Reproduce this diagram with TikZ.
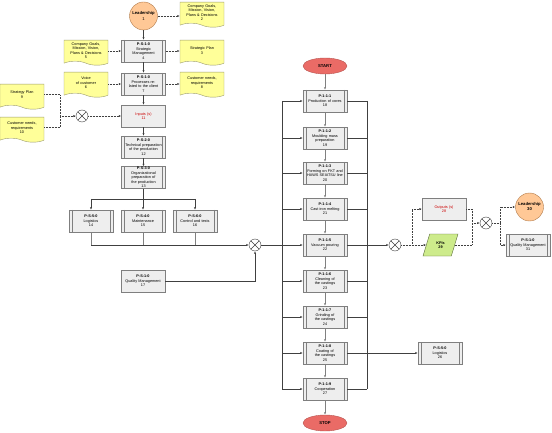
\documentclass[tikz,border=0pt]{standalone}
\usepackage{fontspec}
\setmainfont{Liberation Sans}
\usetikzlibrary{shapes.geometric,shapes.symbols,arrows.meta}
\definecolor{boxfill}{HTML}{EEEEEE}
\definecolor{boxborder}{HTML}{7F7F7F}
\definecolor{docfill}{HTML}{FFFF99}
\definecolor{docborder}{HTML}{9A9A70}
\definecolor{leadfill}{HTML}{FFC896}
\definecolor{leadborder}{HTML}{B07A4A}
\definecolor{termfill}{HTML}{EA6B66}
\definecolor{termborder}{HTML}{B85450}
\definecolor{kpifill}{HTML}{CDEB8B}
\definecolor{kpiborder}{HTML}{5A6A3A}
\definecolor{redtext}{HTML}{CC0000}
\definecolor{linec}{HTML}{404040}
\begin{document}
\begin{tikzpicture}[x=1pt,y=-1pt,
  font=\fontsize{3.8}{4.5}\selectfont,
  >={Latex[length=2.5pt,width=2.2pt]},
  plainbox/.style={rectangle, draw=boxborder, fill=boxfill, minimum width=44pt, minimum height=22pt, inner sep=0pt, align=center, text width=38pt},
  proc/.style={plainbox, path picture={\draw[boxborder] ([xshift=3pt]path picture bounding box.north west) -- ([xshift=3pt]path picture bounding box.south west) ([xshift=-3pt]path picture bounding box.north east) -- ([xshift=-3pt]path picture bounding box.south east);}},
  doc/.style={tape, tape bend top=none, tape bend bottom=out and in, tape bend height=4pt, draw=docborder, fill=docfill, minimum width=44pt, minimum height=25pt, inner sep=1pt, align=center, text width=42pt, anchor=north},
  xor/.style={circle, draw=linec, fill=white, minimum size=12pt, inner sep=0pt, path picture={\draw[linec] (path picture bounding box.north west) -- (path picture bounding box.south east) (path picture bounding box.north east) -- (path picture bounding box.south west);}},
  lead/.style={circle, draw=leadborder, fill=leadfill, minimum size=28pt, inner sep=0pt, align=center, font=\fontsize{4.2}{5}\selectfont\bfseries},
  term/.style={ellipse, draw=termborder, fill=termfill, minimum width=44pt, minimum height=16pt, inner sep=0pt, font=\fontsize{4.2}{5}\selectfont\bfseries},
  kpi/.style={trapezium, trapezium left angle=70, trapezium right angle=110, trapezium stretches=true, draw=kpiborder, fill=kpifill, minimum width=35pt, minimum height=22pt, inner sep=0pt, align=center, font=\fontsize{3.8}{4.5}\selectfont\bfseries},
  conn/.style={draw=linec, line width=0.5pt},
  gconn/.style={draw=gray, line width=0.6pt},
  dotconn/.style={draw=linec, line width=0.5pt, densely dotted}
]
\useasboundingbox (0,0) rectangle (552,433);

% top-left group
\node[lead] (lead1) at (143.5,16) {Leadership\\[0.5pt]\mdseries 1};
\node[doc] (doc2) at (202,2) {Company Goals,\\Mission, Vision,\\Plans \& Decisions\\2};
\node[proc] (sm4) at (143.5,51) {\textbf{P-S-1-0}\\Strategic\\Management\\4};
\node[doc] (doc5) at (86,40) {Company Goals,\\Mission, Vision,\\Plans \& Decisions\\5};
\node[doc] (doc3) at (202,40) {Strategic Plan\\3};
\node[proc] (cl7) at (143.5,84) {\textbf{P-S-1-0}\\Processes related to the client\\7};
\node[doc] (doc6) at (86,72) {Voice\\of customer\\6};
\node[doc] (doc8) at (202,72) {Customer needs,\\requirements\\8};
\node[doc] (doc9) at (22,84) {Strategy Plan\\9};
\node[doc] (doc10) at (22,117) {Customer needs,\\requirements\\10};
\node[xor] (xor1) at (82,116) {};
\node[plainbox, text=redtext] (in11) at (143.5,116) {Inputs (s)\\11};
\node[proc] (tp12) at (143.5,147) {\textbf{P-S-2-0}\\Technical preparation of the production\\12};
\node[proc] (op13) at (143.5,177.5) {\textbf{P-S-3-0}\\Organizational preparation of the production\\13};
\node[proc] (log14) at (91,221) {\textbf{P-S-5-0}\\Logistics\\14};
\node[proc] (mt15) at (143,221) {\textbf{P-S-4-0}\\Maintenance\\15};
\node[proc] (ct16) at (195,221) {\textbf{P-S-6-0}\\Control and tests\\16};
\node[xor] (xor2) at (255,245) {};
\node[plainbox] (qm17) at (143,281) {\textbf{P-S-1-0}\\Quality Management\\17};

% main column
\node[term] (start) at (325,66) {START};
\node[proc] (b18) at (325,101) {\textbf{P-1-1-1}\\Production of cores\\18};
\node[proc] (b19) at (325,138) {\textbf{P-1-1-2}\\Moulding mass preparation\\19};
\node[proc] (b20) at (325,173) {\textbf{P-1-1-3}\\Forming on FKT and HAWS SEIATSU line\\20};
\node[proc] (b21) at (325,209) {\textbf{P-1-1-4}\\Cast iron melting\\21};
\node[proc] (b22) at (325,245) {\textbf{P-1-1-5}\\Vacuum pouring\\22};
\node[proc] (b23) at (325,281) {\textbf{P-1-1-6}\\Cleaning of the castings\\23};
\node[proc] (b24) at (325,317) {\textbf{P-1-1-7}\\Grinding of the castings\\24};
\node[proc] (b25) at (325,353) {\textbf{P-1-1-8}\\Coating of the castings\\25};
\node[proc] (b27) at (325,389) {\textbf{P-1-1-9}\\Cooperation\\27};
\node[term] (stop) at (325,423) {STOP};

% right group
\node[xor] (xor3) at (395,245) {};
\node[plainbox, text=redtext] (out28) at (444,209) {Outputs (s)\\28};
\node[kpi] (kpi29) at (440.5,245) {KPIs\\29};
\node[xor] (xor4) at (486,223) {};
\node[lead] (lead30) at (529.5,207) {Leadership\\30};
\node[proc] (qm31) at (528,245) {\textbf{P-S-1-0}\\Quality Management\\31};
\node[proc] (log26) at (440,353) {\textbf{P-S-5-0}\\Logistics\\26};

% top-left connectors
\draw[->,conn] (lead1) -- (sm4);
\draw[->,dotconn] (lead1.east) -- (lead1.east -| doc2.west);
\draw[->,dotconn] (sm4.west -| doc5.east) -- (sm4.west);
\draw[->,dotconn] (sm4.east) -- (sm4.east -| doc3.west);
\draw[->,conn] (sm4) -- (cl7);
\draw[->,dotconn] (cl7.west -| doc6.east) -- (cl7.west);
\draw[->,dotconn] (cl7.east) -- (cl7.east -| doc8.west);
\draw[->,conn] (cl7) -- (in11);
\coordinate (j1) at (60,116);
\draw[dotconn] (doc9.east) -| (j1);
\draw[dotconn] (doc10.east) -| (j1);
\draw[->,dotconn] (j1) -- (xor1);
\draw[->,dotconn] (xor1) -- (in11);
\draw[->,conn] (in11) -- (tp12);
\draw[->,conn] (tp12) -- (op13);
\coordinate (j2) at (143.5,199);
\draw[conn] (op13) -- (j2);
\draw[conn] (j2 -| log14) -- (j2 -| ct16);
\draw[->,conn] (j2 -| log14) -- (log14);
\draw[->,conn] (j2 -| mt15) -- (mt15);
\draw[->,conn] (j2 -| ct16) -- (ct16);
\draw[gconn] (log14) -- (log14 |- xor2);
\draw[gconn] (mt15) -- (mt15 |- xor2);
\draw[gconn] (ct16) -- (ct16 |- xor2);
\draw[->,conn] (log14 |- xor2) -- (xor2);
\draw[->,conn] (qm17) -| (xor2);
\draw[->,conn] (xor2) -- (b22);

% main column connectors
\draw[->,gconn] (start) -- (b18);
\draw[->,gconn] (b18) -- (b19);
\draw[->,gconn] (b19) -- (b20);
\draw[->,gconn] (b20) -- (b21);
\draw[->,gconn] (b21) -- (b22);
\draw[->,gconn] (b22) -- (b23);
\draw[->,gconn] (b23) -- (b24);
\draw[->,gconn] (b24) -- (b25);
\draw[->,gconn] (b25) -- (b27);
\draw[->,gconn] (b27) -- (stop);
\coordinate (lb) at (282,0);
\coordinate (rb) at (367,0);
\draw[conn] (b18.west -| lb) -- (b27.west -| lb);
\draw[conn] (b18.east -| rb) -- (b27.east -| rb);
\foreach \b in {b18,b19,b20,b21,b23,b24,b25,b27} {
  \draw[->,conn] (\b.west -| lb) -- (\b.west);
  \draw[conn] (\b.east) -- (\b.east -| rb);
}
\draw[->,conn] (b22) -- (xor3);
\draw[->,conn] (b25) -- (log26);

% right connectors
\coordinate (j4) at (412,245);
\draw[->,dotconn] (xor3) -- (kpi29);
\draw[->,dotconn] (j4) |- (out28);
\coordinate (j5) at (472,223);
\draw[dotconn] (out28) -| (j5);
\draw[dotconn] (kpi29) -| (j5);
\draw[->,dotconn] (j5) -- (xor4);
\coordinate (j6) at (500,223);
\draw[dotconn] (xor4) -- (j6);
\draw[->,dotconn] (j6) |- (lead30);
\draw[->,dotconn] (j6) |- (qm31);
\end{tikzpicture}
\end{document}
